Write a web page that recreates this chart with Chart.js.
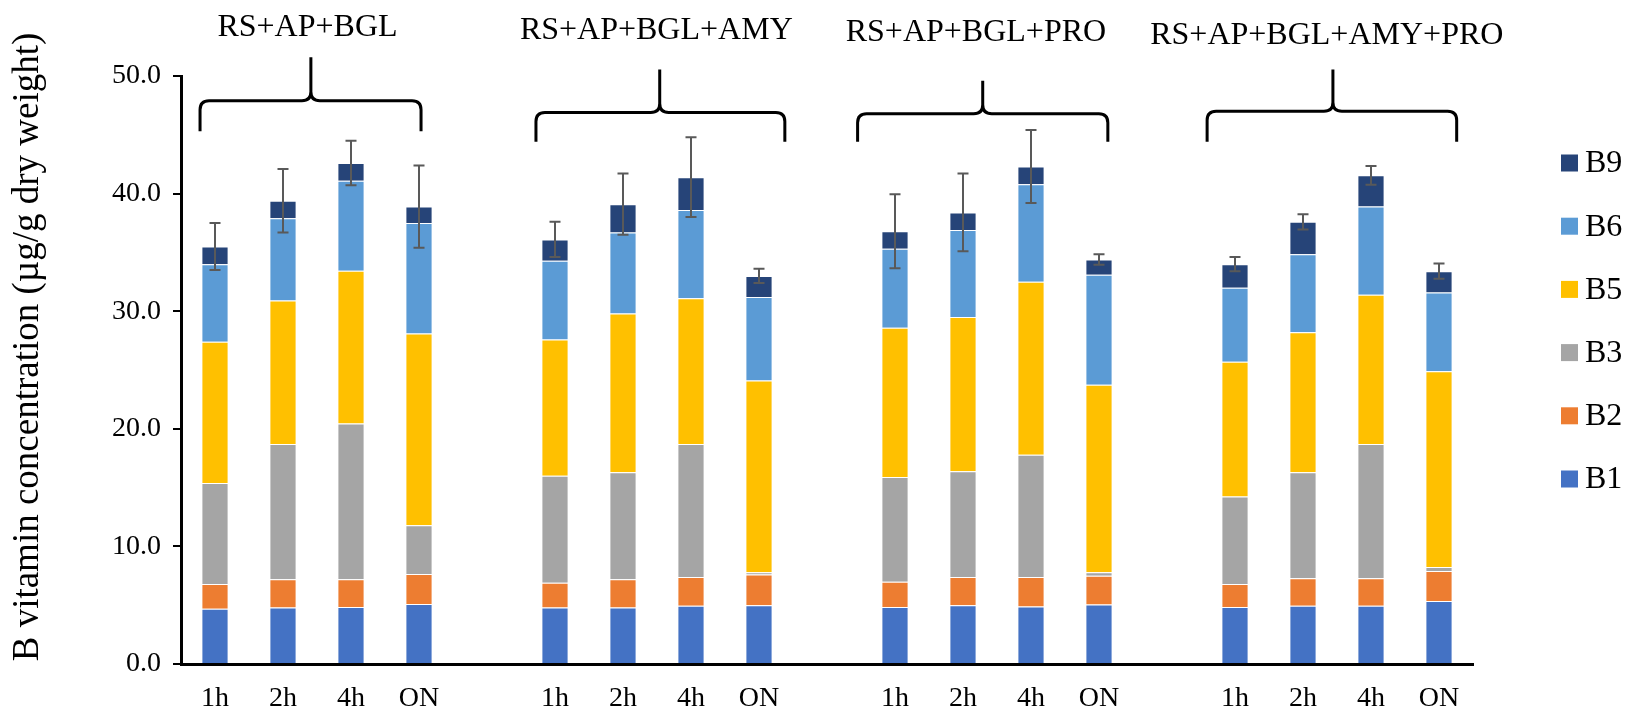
<!DOCTYPE html>
<html>
<head>
<meta charset="utf-8">
<script src="https://cdn.jsdelivr.net/npm/chart.js@4.4.1/dist/chart.umd.min.js"></script>
<style>
  html, body { margin: 0; padding: 0; background: #fff; }
  #wrap { width: 1626px; height: 713px; }
</style>
</head>
<body>
<div id="wrap"><canvas id="chart" width="1626" height="713"></canvas></div>
<script>
// ── Data ─────────────────────────────────────────────────────────────
const TIMES = ['1h', '2h', '4h', 'ON'];
const TREATMENTS = ['RS+AP+BGL', 'RS+AP+BGL+AMY', 'RS+AP+BGL+PRO', 'RS+AP+BGL+AMY+PRO'];
const Y_TICKS = [0, 10, 20, 30, 40, 50];

// µg/g dry weight, 16 bars = 4 treatments x 4 times
const B1 = [4.7, 4.8, 4.85, 5.1, 4.8, 4.8, 4.95, 5.0, 4.85, 5.0, 4.9, 5.05, 4.85, 4.95, 4.95, 5.35];
const B2 = [2.1, 2.4, 2.35, 2.55, 2.1, 2.4, 2.45, 2.6, 2.15, 2.4, 2.5, 2.45, 1.95, 2.35, 2.35, 2.55];
const B3 = [8.6, 11.5, 13.25, 4.15, 9.1, 9.1, 11.3, 0.2, 8.9, 9.0, 10.4, 0.3, 7.45, 9.0, 11.4, 0.35];
const B5 = [12.0, 12.2, 13.0, 16.3, 11.6, 13.5, 12.4, 16.3, 12.7, 13.1, 14.7, 15.95, 11.45, 11.9, 12.7, 16.65];
const B6 = [6.6, 7.0, 7.65, 9.4, 6.7, 6.9, 7.5, 7.1, 6.7, 7.4, 8.3, 9.35, 6.3, 6.65, 7.5, 6.7];
const B9 = [1.5, 1.5, 1.5, 1.4, 1.8, 2.4, 2.8, 1.8, 1.5, 1.5, 1.5, 1.3, 2.0, 2.75, 2.65, 1.8];
// error on the total
const TOTAL_SD = [2.0, 2.7, 1.9, 3.5, 1.5, 2.6, 3.4, 0.6, 3.15, 3.3, 3.1, 0.45, 0.6, 0.65, 0.8, 0.65];

const SERIES = [
  { label: 'B1', data: B1, color: '#4472C4' },
  { label: 'B2', data: B2, color: '#ED7D31' },
  { label: 'B3', data: B3, color: '#A5A5A5' },
  { label: 'B5', data: B5, color: '#FFC000' },
  { label: 'B6', data: B6, color: '#5B9BD5' },
  { label: 'B9', data: B9, color: '#264478' },
];

const FONT = "'Liberation Serif', 'Times New Roman', serif";

// 4 bars per treatment, one empty slot between treatments
function spread(values) {
  const out = [];
  TREATMENTS.forEach((t, g) => {
    if (g > 0) out.push(null);
    TIMES.forEach((_, i) => out.push(values[g * TIMES.length + i]));
  });
  return out;
}
const labels = spread(TREATMENTS.flatMap(() => TIMES)).map(l => l || '');

// ── Annotations (braces + treatment names), in category-index / value units ──
const BRACES = [
  { from: -0.22, to: 3.03, tip: 1.41, line: 47.9, foot: 45.3, peak: 51.6, text: 54.15 },
  { from: 4.72, to: 8.38, tip: 6.54, line: 46.9, foot: 44.4, peak: 50.55, text: 53.9 },
  { from: 9.45, to: 13.13, tip: 11.29, line: 46.8, foot: 44.4, peak: 49.6, text: 53.7 },
  { from: 14.59, to: 18.26, tip: 16.44, line: 47.0, foot: 44.4, peak: 50.55, text: 53.4 },
];
const TITLE_X = [1.36, 6.49, 11.19, 16.35];

function drawBrace(ctx, xl, xr, xm, yLine, yFoot, yPeak) {
  const r = 9;
  ctx.beginPath();
  ctx.moveTo(xl, yFoot);
  ctx.lineTo(xl, yLine + r);
  ctx.quadraticCurveTo(xl, yLine, xl + r, yLine);
  ctx.lineTo(xm - r, yLine);
  ctx.quadraticCurveTo(xm, yLine, xm, yLine - r);
  ctx.lineTo(xm, yPeak);
  ctx.moveTo(xm, yLine - r);
  ctx.quadraticCurveTo(xm, yLine, xm + r, yLine);
  ctx.lineTo(xr - r, yLine);
  ctx.quadraticCurveTo(xr, yLine, xr, yLine + r);
  ctx.lineTo(xr, yFoot);
  ctx.stroke();
}

const extras = {
  id: 'extras',
  afterDatasetsDraw(chart) {
    const { ctx, scales: { x, y } } = chart;
    const totals = spread(B1.map((_, i) => SERIES.reduce((s, d) => s + d.data[i], 0)));
    const sd = spread(TOTAL_SD);
    ctx.save();
    ctx.strokeStyle = '#595959';
    ctx.lineWidth = 2;
    totals.forEach((t, i) => {
      if (t == null) return;
      const px = x.getPixelForValue(i);
      const top = y.getPixelForValue(t + sd[i]);
      const bot = y.getPixelForValue(t - sd[i]);
      ctx.beginPath();
      ctx.moveTo(px, top); ctx.lineTo(px, bot);
      ctx.moveTo(px - 5.5, top); ctx.lineTo(px + 5.5, top);
      ctx.moveTo(px - 5.5, bot); ctx.lineTo(px + 5.5, bot);
      ctx.stroke();
    });
    ctx.restore();
  },
  afterDraw(chart) {
    const { ctx, scales: { x, y } } = chart;
    ctx.save();
    // braces
    ctx.strokeStyle = '#000';
    ctx.lineWidth = 3;
    BRACES.forEach(b => {
      drawBrace(ctx, x.getPixelForValue(b.from), x.getPixelForValue(b.to), x.getPixelForValue(b.tip),
        y.getPixelForValue(b.line), y.getPixelForValue(b.foot), y.getPixelForValue(b.peak));
    });
    // treatment names
    ctx.fillStyle = '#000';
    ctx.font = `32px ${FONT}`;
    ctx.textAlign = 'center';
    ctx.textBaseline = 'middle';
    TREATMENTS.forEach((t, g) => {
      ctx.fillText(t, x.getPixelForValue(TITLE_X[g]), y.getPixelForValue(BRACES[g].text));
    });
    // y axis title
    ctx.save();
    ctx.translate(37.5, 347);
    ctx.rotate(-Math.PI / 2);
    ctx.font = `37px ${FONT}`;
    ctx.textBaseline = 'alphabetic';
    ctx.fillText('B vitamin concentration (µg/g dry weight)', 0, 0);
    ctx.restore();
    // legend, top to bottom B9 ... B1
    ctx.font = `32px ${FONT}`;
    ctx.textAlign = 'left';
    SERIES.slice().reverse().forEach((s, k) => {
      const cy = 163 + k * 63.2;
      ctx.fillStyle = s.color;
      ctx.fillRect(1561, cy - 8.5, 17, 17);
      ctx.fillStyle = '#000';
      ctx.fillText(s.label, 1585, cy + 1);
    });
    ctx.restore();
  }
};

new Chart(document.getElementById('chart'), {
  type: 'bar',
  data: {
    labels,
    datasets: SERIES.map(s => ({
      label: s.label,
      data: spread(s.data),
      backgroundColor: s.color,
      borderColor: 'rgba(255,255,255,0.45)',
      borderWidth: 1,
      barPercentage: 0.4,
      categoryPercentage: 1.0,
    })),
  },
  options: {
    responsive: false,
    animation: false,
    devicePixelRatio: 1,
    layout: { padding: { top: 76, right: 153, bottom: 0, left: 0 } },
    plugins: { legend: { display: false }, tooltip: { enabled: false } },
    scales: {
      x: {
        stacked: true,
        offset: true,
        grid: { display: false },
        border: { color: '#000', width: 3 },
        ticks: { color: '#000', font: { family: FONT, size: 28 }, padding: 10, autoSkip: false, maxRotation: 0 },
        afterFit: s => { s.height = 49; },
      },
      y: {
        stacked: true,
        min: 0,
        max: 50,
        afterBuildTicks: s => { s.ticks = Y_TICKS.map(v => ({ value: v })); },
        grid: { drawOnChartArea: false, drawTicks: true, tickLength: 8, color: '#000', lineWidth: 2 },
        border: { color: '#000', width: 3 },
        ticks: { color: '#000', font: { family: FONT, size: 28 }, padding: 12, callback: v => v.toFixed(1) },
        afterFit: s => { s.width = 181; },
      },
    },
  },
  plugins: [extras],
});
</script>
</body>
</html>
